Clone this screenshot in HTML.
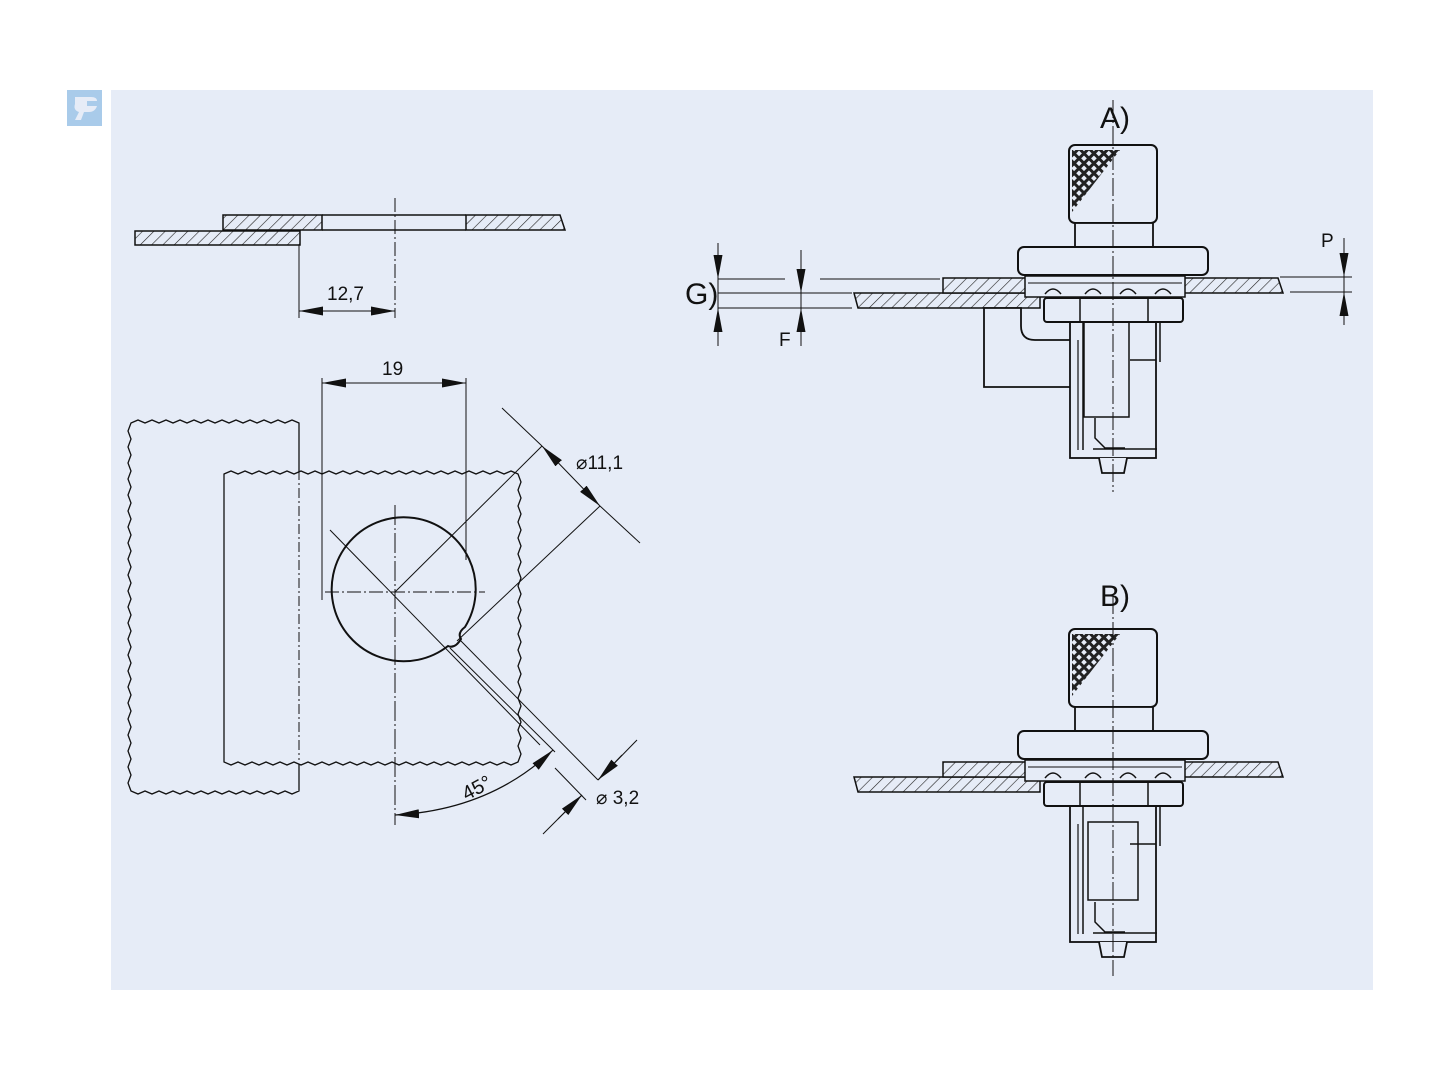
<!DOCTYPE html>
<html><head><meta charset="utf-8"><style>
html,body{margin:0;padding:0;background:#fff}
svg{display:block}
text{font-family:"Liberation Sans",sans-serif;fill:#111}
</style></head><body>
<svg width="1440" height="1080" viewBox="0 0 1440 1080" xmlns="http://www.w3.org/2000/svg">
<defs>
<pattern id="h" patternUnits="userSpaceOnUse" width="8" height="8" patternTransform="rotate(45)">
<rect width="8" height="8" fill="#e6ecf7"/><line x1="0" y1="0" x2="0" y2="8" stroke="#222" stroke-width="1.2"/>
</pattern>
<pattern id="x" patternUnits="userSpaceOnUse" width="7" height="7" patternTransform="rotate(45)">
<rect width="7" height="7" fill="#222"/><rect x="1.5" y="1.5" width="4" height="4" fill="#e6ecf7"/>
</pattern>
<marker id="a" viewBox="0 0 24 9" refX="24" refY="4.5" markerWidth="24" markerHeight="9" orient="auto" markerUnits="userSpaceOnUse">
<path d="M0,0 L24,4.5 L0,9 Z" fill="#111"/></marker>
<marker id="as" viewBox="0 0 24 9" refX="0" refY="4.5" markerWidth="24" markerHeight="9" orient="auto" markerUnits="userSpaceOnUse">
<path d="M24,0 L0,4.5 L24,9 Z" fill="#111"/></marker>
<g id="asm">
<rect x="1069" y="145" width="88" height="78" rx="6" fill="#e6ecf7" stroke="#111" stroke-width="2"/>
<path d="M1072,150 L1120,150 L1072,212 Z" fill="url(#x)"/>
<rect x="1075" y="223" width="78" height="24" fill="#e6ecf7" stroke="#111" stroke-width="1.8"/>
<rect x="1018" y="247" width="190" height="28" rx="6" fill="#e6ecf7" stroke="#111" stroke-width="2"/>
<path d="M943,278 L1035,278 L1040,293 L943,293 Z" fill="url(#h)" stroke="#111" stroke-width="1.5"/>
<path d="M1185,278 L1278,278 L1283,293 L1183,293 Z" fill="url(#h)" stroke="#111" stroke-width="1.5"/>
<rect x="1025" y="276" width="160" height="21" fill="#e6ecf7" stroke="#111" stroke-width="1.5"/>
<line x1="1028" y1="283" x2="1182" y2="283" stroke="#111"/>
<g fill="none" stroke="#111" stroke-width="1.5">
<path d="M1045,294 q8,-10 16,0"/><path d="M1085,294 q8,-10 16,0"/><path d="M1120,294 q8,-10 16,0"/><path d="M1155,294 q8,-10 16,0"/>
</g>
<rect x="1044" y="298" width="139" height="24" rx="3" fill="#e6ecf7" stroke="#111" stroke-width="2"/>
<line x1="1080" y1="298" x2="1080" y2="322" stroke="#111" stroke-width="1.5"/>
<line x1="1148" y1="298" x2="1148" y2="322" stroke="#111" stroke-width="1.5"/>
</g>
</defs>
<rect x="111" y="90" width="1262" height="900" fill="#e6ecf7"/>
<rect x="67" y="90" width="35" height="36" fill="#a9cbea"/>
<path d="M75,97 h16 q6,0 6,4 h-10 v5 h10 q-2,6 -8,6 h-5 l-3,8 h-6 l4,-8 q-6,-2 -4,-8 Z" fill="#e6ecf7"/>

<g stroke="#111" fill="none">
<rect x="135" y="231" width="165" height="14" fill="url(#h)" stroke-width="1.5"/>
<rect x="223" y="215" width="99" height="15" fill="url(#h)" stroke-width="1.5"/>
<path d="M466,215 L560,215 L565,230 L466,230 Z" fill="url(#h)" stroke-width="1.5"/>
<line x1="322" y1="215" x2="466" y2="215" stroke-width="1.5"/>
<line x1="322" y1="230" x2="466" y2="230" stroke-width="1.5"/>
<line x1="395" y1="198" x2="395" y2="318" stroke-width="1" stroke-dasharray="14,3,2,3"/>
<line x1="299" y1="245" x2="299" y2="318" stroke-width="1"/>
<line x1="299" y1="311" x2="395" y2="311" stroke-width="1" marker-start="url(#as)" marker-end="url(#a)"/>

<path d="M299,423 l-7,-3 -7,3 l-7,-3 -7,3 l-7,-3 -7,3 l-7,-3 -7,3 l-7,-3 -7,3 l-7,-3 -7,3 l-7,-3 -7,3 l-7,-3 -7,3 l-7,-3 -7,3 l-7,-3 -7,3 l-7,-3 -7,3 l-7,-3 -7,3
 l-3,8 3,8 l-3,8 3,8 l-3,8 3,8 l-3,8 3,8 l-3,8 3,8 l-3,8 3,8 l-3,8 3,8 l-3,8 3,8 l-3,8 3,8 l-3,8 3,8 l-3,8 3,8 l-3,8 3,8 l-3,8 3,8 l-3,8 3,8 l-3,8 3,8 l-3,8 3,8 l-3,8 3,8 l-3,8 3,8 l-3,8 3,8 l-3,8 3,8 l-3,8 3,8 l-3,8 3,8 l-3,8 3,8
 l7,3 7,-3 l7,3 7,-3 l7,3 7,-3 l7,3 7,-3 l7,3 7,-3 l7,3 7,-3 l7,3 7,-3 l7,3 7,-3 l7,3 7,-3 l7,3 7,-3 l7,3 7,-3 l7,3 7,-3 Z" stroke-width="1.3"/>
<path d="M224,474 l7,-3 7,3 l7,-3 7,3 l7,-3 7,3 l7,-3 7,3 l7,-3 7,3 l7,-3 7,3 l7,-3 7,3 l7,-3 7,3 l7,-3 7,3 l7,-3 7,3 l7,-3 7,3 l7,-3 7,3 l7,-3 7,3 l7,-3 7,3 l7,-3 7,3 l7,-3 7,3 l7,-3 7,3 l7,-3 7,3 l7,-3 7,3 l7,-3 7,3 l7,-3 7,3
 l3,8 -3,8 l3,8 -3,8 l3,8 -3,8 l3,8 -3,8 l3,8 -3,8 l3,8 -3,8 l3,8 -3,8 l3,8 -3,8 l3,8 -3,8 l3,8 -3,8 l3,8 -3,8 l3,8 -3,8 l3,8 -3,8 l3,8 -3,8 l3,8 -3,8 l3,8 -3,8 l3,8 -3,8 l3,8 -3,8
 l-7,3 -7,-3 l-7,3 -7,-3 l-7,3 -7,-3 l-7,3 -7,-3 l-7,3 -7,-3 l-7,3 -7,-3 l-7,3 -7,-3 l-7,3 -7,-3 l-7,3 -7,-3 l-7,3 -7,-3 l-7,3 -7,-3 l-7,3 -7,-3 l-7,3 -7,-3 l-7,3 -7,-3 l-7,3 -7,-3 l-7,3 -7,-3 l-7,3 -7,-3 l-7,3 -7,-3 l-7,3 -7,-3 l-7,3 -7,-3 l-7,3 -7,-3 Z" stroke-width="1.3" fill="#e6ecf7"/>
<line x1="299" y1="470" x2="299" y2="760" stroke-width="1" stroke-dasharray="10,3,2,3"/>
<path d="M448,646 A72,72 0 1 1 465,627 q-8,6 -4,12 q-6,10 -13,7 Z" fill="none" stroke-width="2"/>
<line x1="325" y1="592" x2="485" y2="592" stroke-width="1" stroke-dasharray="14,3,2,3"/>
<line x1="395" y1="505" x2="395" y2="825" stroke-width="1" stroke-dasharray="20,3,2,3"/>
<line x1="322" y1="378" x2="322" y2="600" stroke-width="1"/>
<line x1="466" y1="378" x2="466" y2="560" stroke-width="1"/>
<line x1="322" y1="383" x2="466" y2="383" stroke-width="1" marker-start="url(#as)" marker-end="url(#a)"/>
<line x1="330" y1="530" x2="540" y2="745" stroke-width="1"/>
<line x1="395" y1="592" x2="542" y2="446" stroke-width="1"/>
<line x1="457" y1="641" x2="600" y2="506" stroke-width="1"/>
<line x1="502" y1="408" x2="542" y2="446" stroke-width="1"/>
<line x1="542" y1="446" x2="600" y2="506" stroke-width="1" marker-start="url(#as)" marker-end="url(#a)"/>
<line x1="600" y1="506" x2="640" y2="543" stroke-width="1"/>
<line x1="450" y1="648" x2="555" y2="752" stroke-width="1"/>
<line x1="460" y1="640" x2="598" y2="780" stroke-width="1"/>
<line x1="555" y1="768" x2="586" y2="800" stroke-width="1"/>
<line x1="543" y1="834" x2="582" y2="795" stroke-width="1"/>
<line x1="598" y1="780" x2="637" y2="740" stroke-width="1"/>
<line x1="622" y1="755" x2="598" y2="780" stroke-width="1" marker-end="url(#a)"/>
<line x1="558" y1="819" x2="582" y2="795" stroke-width="1" marker-end="url(#a)"/>
<path d="M395,815 Q490,810 553,750" stroke-width="1.2" marker-start="url(#as)" marker-end="url(#a)"/>
</g>
<text x="327" y="300" font-size="19">12,7</text>
<text x="382" y="375" font-size="19">19</text>
<text x="576" y="469" font-size="19">⌀11,1</text>
<text x="596" y="804" font-size="19">⌀ 3,2</text>
<text x="460" y="795" font-size="20" transform="rotate(-28 475 785)">45°</text>

<g stroke="#111" fill="none">
<path d="M854,293 L1040,293 L1040,308 L858,308 Z" fill="url(#h)" stroke-width="1.5"/>
<path d="M984,308 h37 v18 q0,14 14,14 h36 v47 h-87 Z" fill="#e6ecf7" stroke-width="1.8"/>
<rect x="1070" y="322" width="86" height="136" fill="#e6ecf7" stroke-width="1.8"/>
<line x1="1083" y1="322" x2="1083" y2="450" stroke-width="1.5"/>
<line x1="1078" y1="340" x2="1078" y2="450" stroke-width="1.2"/>
<rect x="1084" y="322" width="45" height="95" stroke-width="1.5"/>
<path d="M1130,360 h26 M1160,322 v40" stroke-width="1.5"/>
<path d="M1095,418 v20 l10,10 h20 M1093,449 h64" stroke-width="1.5"/>
<path d="M1099,458 l3,15 h22 l3,-15" fill="#e6ecf7" stroke-width="1.8"/>
</g>
<use href="#asm"/>
<line x1="1113" y1="100" x2="1113" y2="492" stroke="#111" stroke-width="1" stroke-dasharray="18,3,2,3"/>
<g stroke="#111" stroke-width="1" fill="none">
<line x1="718" y1="279" x2="785" y2="279"/><line x1="820" y1="279" x2="940" y2="279"/>
<line x1="718" y1="293" x2="852" y2="293"/>
<line x1="718" y1="308" x2="852" y2="308"/>
<line x1="718" y1="243" x2="718" y2="346"/>
<line x1="801" y1="250" x2="801" y2="346"/>
<line x1="1280" y1="277" x2="1352" y2="277"/>
<line x1="1290" y1="292" x2="1352" y2="292"/>
<line x1="1344" y1="238" x2="1344" y2="325"/>
</g>
<g fill="#111">
<path d="M713.5,255 L722.5,255 L718,279 Z"/>
<path d="M713.5,332 L722.5,332 L718,308 Z"/>
<path d="M796.5,269 L805.5,269 L801,293 Z"/>
<path d="M796.5,332 L805.5,332 L801,308 Z"/>
<path d="M1339.5,253 L1348.5,253 L1344,277 Z"/>
<path d="M1339.5,316 L1348.5,316 L1344,292 Z"/>
</g>
<text x="685" y="304" font-size="30">G)</text>
<text x="779" y="346" font-size="19">F</text>
<text x="1321" y="247" font-size="19">P</text>
<text x="1100" y="128" font-size="30">A)</text>

<g transform="translate(0,484)">
<g stroke="#111" fill="none">
<path d="M854,293 L1040,293 L1040,308 L858,308 Z" fill="url(#h)" stroke-width="1.5"/>
<rect x="1070" y="322" width="86" height="136" fill="#e6ecf7" stroke-width="1.8"/>
<line x1="1083" y1="322" x2="1083" y2="450" stroke-width="1.5"/>
<line x1="1078" y1="340" x2="1078" y2="450" stroke-width="1.2"/>
<rect x="1088" y="338" width="50" height="78" stroke-width="1.5"/>
<path d="M1130,360 h26 M1160,322 v40" stroke-width="1.5"/>
<path d="M1095,418 v20 l10,10 h20 M1093,449 h64" stroke-width="1.5"/>
<path d="M1099,458 l3,15 h22 l3,-15" fill="#e6ecf7" stroke-width="1.8"/>
</g>
<use href="#asm"/>
<line x1="1113" y1="112" x2="1113" y2="492" stroke="#111" stroke-width="1" stroke-dasharray="18,3,2,3"/>
</g>
<text x="1100" y="606" font-size="30">B)</text>
</svg>
</body></html>
